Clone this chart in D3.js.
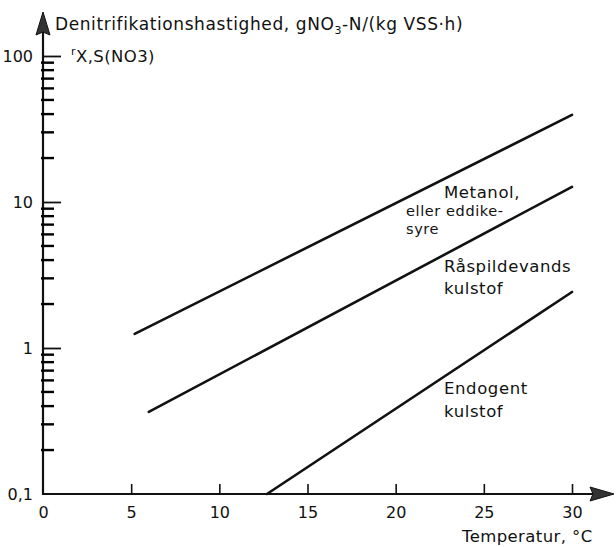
<!DOCTYPE html>
<html><head><meta charset="utf-8">
<script src="https://cdn.jsdelivr.net/npm/d3@7"></script>
<style>
html,body{margin:0;padding:0;background:#fff;}
svg{display:block;}
text{font-family:"DejaVu Sans",sans-serif;fill:#111;}
</style></head>
<body>
<svg id="chart" width="616" height="547"></svg>
<script>
// ---- data ----
const xTickValues = [0, 5, 10, 15, 20, 25, 30];
const yMajorTicks = [0.1, 1, 10, 100];
const yMajorLabels = ["0,1", "1", "10", "100"];
const yMinorTicks = [0.2, 0.3, 0.4, 0.5, 0.6, 0.7, 0.8, 0.9,
                     2, 3, 4, 5, 6, 7, 8, 9,
                     20, 30, 40, 50, 60, 70, 80, 90];
const seriesNames = ["Metanol, eller eddikesyre", "Råspildevands kulstof", "Endogent kulstof"];
const metanolTemp = [5.2, 30];
const metanolRate = [1.25, 39.5];
const raspildTemp = [6.0, 30];
const raspildRate = [0.365, 12.7];
const endogentTemp = [12.7, 30];
const endogentRate = [0.1, 2.42];

const svg = d3.select("#chart");
const x = d3.scaleLinear().domain([0, 30]).range([43, 572]);
const y = d3.scaleLog().domain([0.1, 100]).range([494, 56]);
const x0 = x(0), y0 = y(0.1);

// axes lines
svg.append("line").attr("x1", x0).attr("x2", 600).attr("y1", y0).attr("y2", y0)
  .attr("stroke", "#111").attr("stroke-width", 2.2);
svg.append("line").attr("x1", x0).attr("x2", x0).attr("y1", y0 + 1).attr("y2", 26)
  .attr("stroke", "#111").attr("stroke-width", 2.2);
// arrowheads
svg.append("path").attr("d", `M614,${y0} L590,${y0 - 7} L593,${y0} L590,${y0 + 7} Z`)
  .attr("fill", "#333").attr("stroke", "#111").attr("stroke-width", 1);
svg.append("path").attr("d", `M${x0},12 L${x0 - 7},35 L${x0},32 L${x0 + 7},35 Z`)
  .attr("fill", "#333").attr("stroke", "#111").attr("stroke-width", 1);

// x axis
const xAxis = d3.axisBottom(x).tickValues(xTickValues).tickSizeInner(-10).tickSizeOuter(0)
  .tickPadding(13).tickFormat(d3.format("d"));
const gx = svg.append("g").attr("transform", `translate(0,${y0})`).call(xAxis);
gx.select(".domain").remove();
gx.selectAll(".tick line").attr("stroke", "#111").attr("stroke-width", 1.6);
gx.selectAll(".tick text").attr("font-size", 16).attr("fill", "#111")
  .attr("font-family", "DejaVu Sans, sans-serif");
gx.selectAll(".tick").filter(d => d === 0).select("line").remove();

// y axis majors
const yAxis = d3.axisLeft(y).tickValues(yMajorTicks).tickSizeInner(-18).tickSizeOuter(0)
  .tickPadding(10).tickFormat((d, i) => yMajorLabels[i]);
const gy = svg.append("g").attr("transform", `translate(${x0},0)`).call(yAxis);
gy.select(".domain").remove();
gy.selectAll(".tick line").attr("stroke", "#111").attr("stroke-width", 1.8);
gy.selectAll(".tick text").attr("font-size", 16).attr("fill", "#111")
  .attr("font-family", "DejaVu Sans, sans-serif");
gy.selectAll(".tick").filter(d => d === 0.1).select("line").remove();

// y axis minor ticks
const gMinor = svg.append("g").attr("class", "minor-ticks");
yMinorTicks.forEach(v => {
  gMinor.append("line")
    .attr("x1", x0 - 2).attr("x2", x0 + 11)
    .attr("y1", y(v)).attr("y2", y(v))
    .attr("stroke", "#000").attr("stroke-width", 2.4);
});

// lines
const series = [
  {t: metanolTemp, r: metanolRate},
  {t: raspildTemp, r: raspildRate},
  {t: endogentTemp, r: endogentRate}
];
const line = d3.line().x(d => x(d[0])).y(d => y(d[1]));
series.forEach(s => {
  svg.append("path").datum(d3.zip(s.t, s.r)).attr("d", line)
    .attr("fill", "none").attr("stroke", "#111").attr("stroke-width", 2.6)
    .attr("stroke-linecap", "round");
});

// axis titles
const t1 = svg.append("text").attr("x", 55).attr("y", 30).attr("font-size", 17)
  .attr("letter-spacing", 0.6);
t1.append("tspan").text("Denitrifikationshastighed, gNO");
t1.append("tspan").attr("font-size", 11).attr("dy", 4).text("3");
t1.append("tspan").attr("dy", -4).text("-N/(kg VSS·h)");

const t2 = svg.append("text").attr("x", 71).attr("y", 62).attr("font-size", 16.5)
  .attr("letter-spacing", 0.4);
t2.append("tspan").attr("font-size", 11).attr("dy", -7).text("r");
t2.append("tspan").attr("dy", 7).text("X,S(NO3)");

svg.append("text").attr("x", 462).attr("y", 542).attr("font-size", 16.5)
  .attr("letter-spacing", 0.4).text("Temperatur, °C");

// curve labels
const labels = [
  {x: 444, y: 198, t: "Metanol,", s: 16.5},
  {x: 406, y: 216, t: "eller  eddike-", s: 14.5},
  {x: 406, y: 234, t: "syre", s: 14.5},
  {x: 444, y: 272, t: "Råspildevands", s: 16.5},
  {x: 444, y: 294, t: "kulstof", s: 16.5},
  {x: 444, y: 394, t: "Endogent", s: 16.5},
  {x: 444, y: 417, t: "kulstof", s: 16.5}
];
svg.selectAll("text.lbl").data(labels).enter().append("text").attr("class", "lbl")
  .attr("x", d => d.x).attr("y", d => d.y).attr("font-size", d => d.s)
  .attr("letter-spacing", 0.6).text(d => d.t);
</script>
</body></html>
